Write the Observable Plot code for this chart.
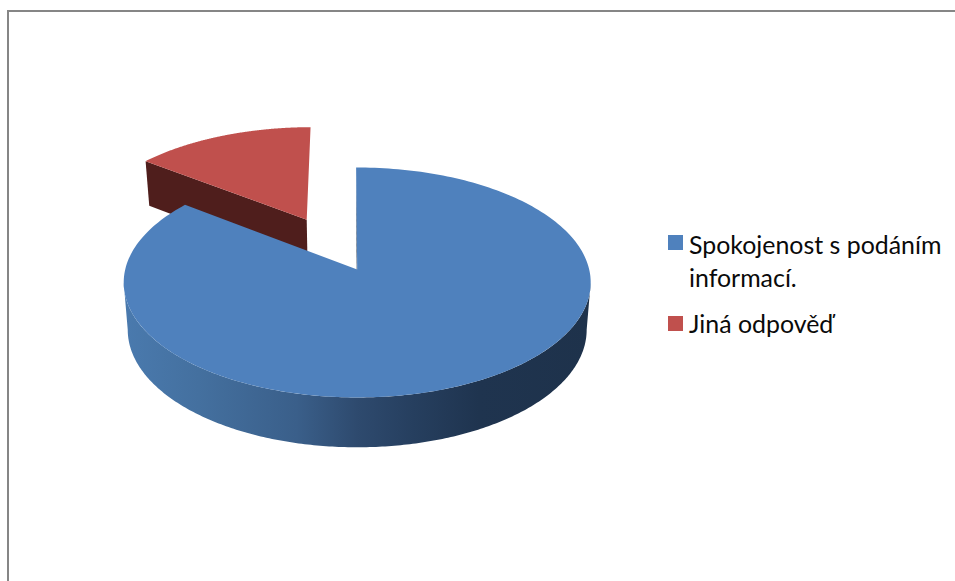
<!DOCTYPE html>
<html lang="cs">
<head>
<meta charset="utf-8">
<script src="https://cdn.jsdelivr.net/npm/d3@7"></script>
<script src="https://cdn.jsdelivr.net/npm/@observablehq/plot@0.6"></script>
<style>
  html, body { margin: 0; padding: 0; background: #fff; width: 955px; height: 581px; overflow: hidden; }
  #chart { position: absolute; left: 0; top: 0; width: 955px; height: 581px; overflow: hidden; }
  #chart svg { display: block; position: absolute; left: 0; top: 0; background: transparent; }
  #frame { position: absolute; left: 7px; top: 10px; width: 1000px; height: 700px; border-left: 2px solid #868686; border-top: 2px solid #868686; }
  #legend { position: absolute; left: 668px; top: 228px; width: 285px; font-family: Lato, sans-serif; font-size: 24.9px; color: #0a0a0a; line-height: 33px; }
  .entry { position: relative; padding-left: 21px; margin-bottom: 13px; }
  .swatch { position: absolute; left: 0; top: 7px; width: 15px; height: 15px; }
  .entry + .entry .swatch { top: 9px; }
</style>
</head>
<body>
<div id="chart"><div id="frame"></div></div>
<div id="legend"></div>
<script>
// Survey answers, in percent of respondents
const categories = ["Spokojenost s podáním informací.", "Jiná odpověď"];
const shares = [85.5, 14.5];
const explosion = [0, 0.515];
const topColors = ["#4f81bd", "#c0504d"];

// Tilted-disc projection of the pie; the disc has unit radius
const origin = {x: 356.7, y: 269};
const topPlane = {rx: 232, ry: 113.5, drop: 0};
const basePlane = {rx: 228, ry: 116, drop: 47};
const tilt = 0.113;
const startAngle = -0.3 * Math.PI / 180;

function project(u, v, plane) {
  const w = 1 / (1 - tilt * v);
  return [origin.x + plane.rx * u * w, origin.y + plane.drop + plane.ry * v * w];
}

// Angles run clockwise from the back of the disc
const slices = d3.pie().sort(null).startAngle(startAngle).endAngle(startAngle + 2 * Math.PI)(shares)
  .map((s, i) => {
    const mid = (s.startAngle + s.endAngle) / 2;
    return {
      a0: s.startAngle,
      a1: s.endAngle,
      cu: explosion[i] * Math.sin(mid),
      cv: -explosion[i] * Math.cos(mid)
    };
  });

const rimPoint = (s, a, plane) => project(s.cu + Math.sin(a), s.cv - Math.cos(a), plane);
const hubPoint = (s, plane) => project(s.cu, s.cv, plane);
const arc = (s, plane, a0 = s.a0, a1 = s.a1) =>
  d3.range(0, 241).map(t => rimPoint(s, a0 + (a1 - a0) * t / 240, plane));

const face = s => [hubPoint(s, topPlane), ...arc(s, topPlane)];
const cutFace = (s, a) => [
  hubPoint(s, topPlane), rimPoint(s, a, topPlane),
  rimPoint(s, a, basePlane), hubPoint(s, basePlane)
];

// The outer wall is visible between the disc's two widest points
const widest = Math.acos(-tilt);
const wall = s => [
  ...arc(s, topPlane, widest, 2 * Math.PI - widest),
  ...arc(s, basePlane, widest, 2 * Math.PI - widest).reverse()
];

const [large, small] = slices;

// Painted back to front
const layers = [
  {points: cutFace(small, small.a0), fill: "#4f1e1c"},
  {points: face(small), fill: topColors[1]},
  {points: cutFace(large, large.a0), fill: "#1e324b"},
  {points: wall(large), fill: "url(#wallShade)"},
  {points: face(large), fill: topColors[0]}
];

const wallStops = [
  [0, "#4a7aae"], [0.16, "#44709f"], [0.37, "#3a5f8a"], [0.5, "#2e4a6e"],
  [0.62, "#263f5f"], [0.76, "#1f344f"], [1, "#1e324b"]
];

function wallGradient() {
  const defs = d3.create("svg:defs");
  const g = defs.append("linearGradient").attr("id", "wallShade")
    .attr("x1", 0).attr("x2", 1).attr("y1", 0).attr("y2", 0);
  wallStops.forEach(([o, c]) => g.append("stop").attr("offset", o).attr("stop-color", c));
  return defs.node();
}

const plot = Plot.plot({
  width: 955,
  height: 581,
  margin: 0,
  x: {type: "linear", domain: [0, 955], range: [0, 955], axis: null},
  y: {type: "linear", domain: [0, 581], range: [0, 581], axis: null},
  marks: [
    wallGradient,
    ...layers.map(l => Plot.line(l.points, {
      x: d => d[0],
      y: d => d[1],
      fill: l.fill,
      stroke: "none",
      curve: "linear"
    }))
  ]
});
document.getElementById("chart").appendChild(plot);

// Legend beside the pie
const legend = d3.select("#legend");
categories.forEach((name, i) => {
  const row = legend.append("div").attr("class", "entry");
  row.append("span").attr("class", "swatch").style("background", topColors[i]);
  row.append("span").text(name);
});
</script>
</body>
</html>
